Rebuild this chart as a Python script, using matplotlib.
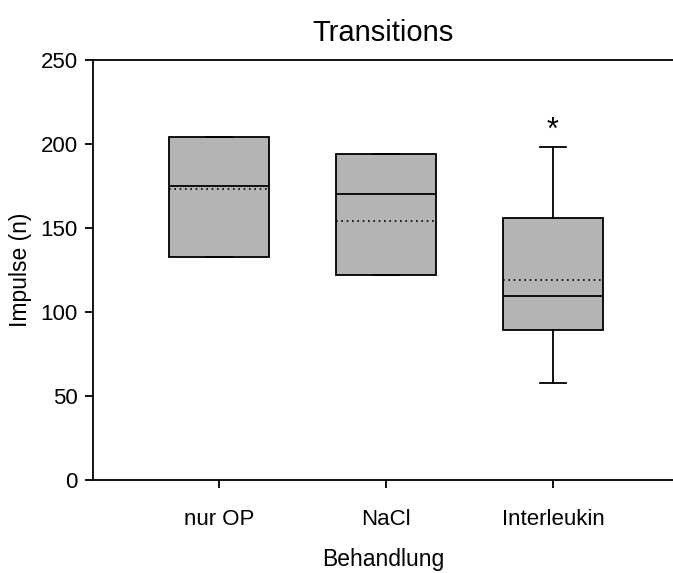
import matplotlib
matplotlib.use("Agg")
import matplotlib.pyplot as plt

categories = ["nur OP", "NaCl", "Interleukin"]
q1 = [133, 122, 89.5]
median = [175, 170, 109.5]
q3 = [204, 194, 156]
mean = [173, 154, 119]
whislo = [133, 122, 58]
whishi = [204, 194, 198]
yticks = [0, 50, 100, 150, 200, 250]

plt.rcParams['font.family'] = ['Liberation Sans', 'DejaVu Sans']

fig = plt.figure(figsize=(6.73, 5.73), dpi=100)
ax = fig.add_axes([93/673, 93/573, 1 - 93/673, 420/573])

stats = []
for i, c in enumerate(categories):
    stats.append(dict(label=c, q1=q1[i], med=median[i], q3=q3[i], mean=mean[i],
                      whislo=whislo[i], whishi=whishi[i], fliers=[]))

lw = 1.3
ax.bxp(stats, positions=[1, 2, 3], widths=0.6, patch_artist=True,
       showmeans=True, meanline=True, showfliers=False,
       capwidths=0.155,
       boxprops=dict(facecolor='#b4b4b4', edgecolor='black', linewidth=lw),
       medianprops=dict(color='black', linewidth=lw),
       meanprops=dict(color='black', linestyle=(0, (1, 2.2)), linewidth=1.2),
       whiskerprops=dict(color='black', linewidth=lw),
       capprops=dict(color='black', linewidth=lw))

ax.text(3, whishi[2] + 1, "*", ha='center', va='bottom', fontsize=22)

ax.set_xlim(0.243, 3.72)
ax.set_ylim(0, 250)
ax.set_yticks(yticks)
ax.set_xticks([1, 2, 3])
ax.set_xticklabels(categories)
ax.spines['right'].set_visible(False)
for s in ['left', 'top', 'bottom']:
    ax.spines[s].set_linewidth(1.3)
ax.tick_params(axis='both', direction='out', length=6, width=1.3, labelsize=16)
ax.tick_params(axis='x', pad=15)
ax.tick_params(axis='y', pad=5)
ax.set_title("Transitions", fontsize=21, pad=14)
ax.set_xlabel("Behandlung", fontsize=16.5, labelpad=13)
ax.set_ylabel("Impulse (n)", fontsize=16.5, labelpad=6)

fig.savefig("out.png", dpi=100)
